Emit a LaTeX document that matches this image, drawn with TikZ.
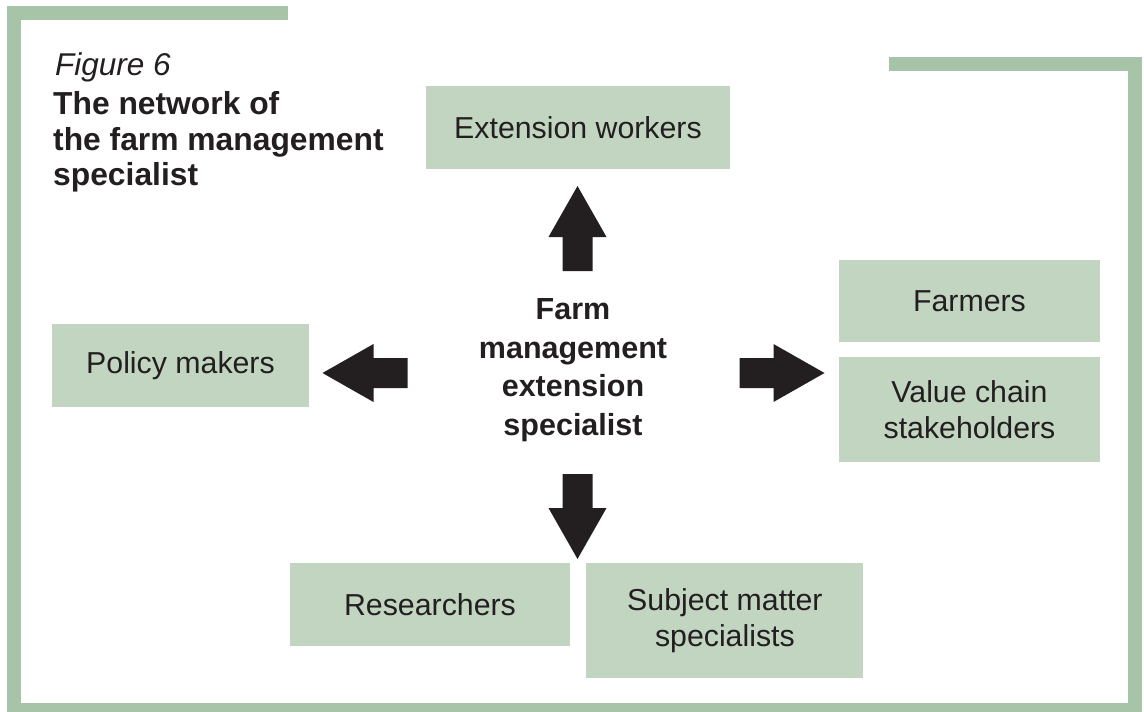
\documentclass[tikz,border=0pt]{standalone}
\usepackage{fontspec}
\setmainfont{Liberation Sans}
\usetikzlibrary{positioning}

\definecolor{framegreen}{HTML}{A8C4A8}
\definecolor{boxgreen}{HTML}{C1D5C1}
\definecolor{inkblack}{HTML}{231F20}

\tikzset{
 partner/.style={fill=boxgreen,text=inkblack,align=center,inner sep=0pt,
   font=\fontsize{30.3}{36}\selectfont},
 pics/fatarrow/.style={code={
   \fill[inkblack] (0,-15) -- (34,-15) -- (34,-29) -- (85,0) -- (34,29) -- (34,15) -- (0,15) -- cycle;}}
}

\begin{document}
\begin{tikzpicture}[x=1pt,y=-1pt]
 \useasboundingbox (0,0) rectangle (1144,712);
 % frame
 \draw[framegreen,line width=14pt,line join=miter] (288,12.5) -| (14,710) -| (1135,64) -- (889,64);

 % title
 \node[anchor=base west,inner sep=0pt,text=inkblack,font=\fontsize{31.5}{35}\selectfont\itshape] (fig) at (55,75) {Figure 6};
 \node[anchor=north west,inner sep=0pt,text=inkblack,align=left,font=\fontsize{31.8}{35.5}\selectfont\bfseries] (title) at (53,91.5)
   {The network of\\the farm management\\specialist};

 % centre
 \node[align=center,inner sep=0pt,text=inkblack,font=\fontsize{30.5}{38.5}\selectfont\bfseries] (hub) at (573,370)
   {Farm\\management\\extension\\specialist};

 % partners
 \node[partner,minimum width=304pt,minimum height=82.5pt] (ext) at (578,127.5) {Extension workers};
 \node[partner,minimum width=261pt,minimum height=82pt] (farm) at (969.5,301) {Farmers};
 \node[partner,minimum width=261pt,minimum height=105pt,below=15pt of farm] (value) {Value chain\\stakeholders};
 \node[partner,minimum width=257pt,minimum height=83pt] (policy) at (180.5,365.5) {Policy makers};
 \node[partner,minimum width=280pt,minimum height=83pt] (research) at (430,604.5) {Researchers};
 \node[partner,minimum width=277pt,minimum height=115pt,anchor=north west] (subject) at ([xshift=16pt]research.north east)
   {Subject matter\\specialists};

 % arrows
 \pic[rotate=90] at (577.5,271) {fatarrow};
 \pic[rotate=-90] at (577.5,474) {fatarrow};
 \pic[rotate=180] at (407.5,373) {fatarrow};
 \pic at (739.5,373) {fatarrow};
\end{tikzpicture}
\end{document}
